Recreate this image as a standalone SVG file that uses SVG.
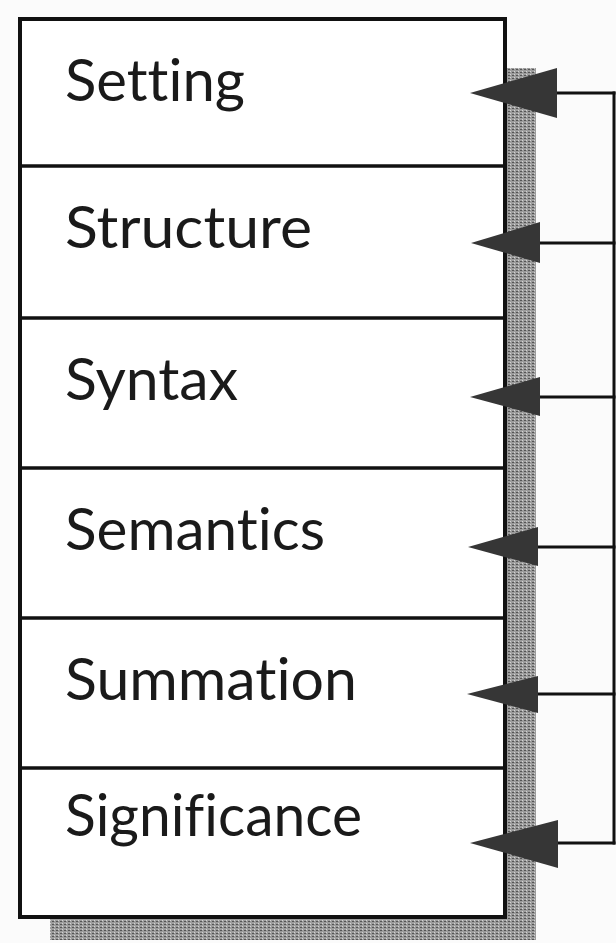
<svg xmlns="http://www.w3.org/2000/svg" width="616" height="943" viewBox="0 0 616 943">
<style>
.lbl{font-family:Lato,"Open Sans","Liberation Sans",sans-serif;font-size:58px;fill:#1a1a1a;font-variant-ligatures:none;font-feature-settings:"liga" 0,"clig" 0}
.box{fill:#fff;stroke:#111;stroke-width:4}
.div{stroke:#111;stroke-width:3.5}
.con{stroke:#111;stroke-width:3;fill:none}
.head{fill:#363636}
</style>
<defs>
<pattern id="ht" width="4" height="3" patternUnits="userSpaceOnUse">
<rect width="4" height="3" fill="#9c9c9c"/>
<rect width="2" height="1" fill="#555"/>
<rect x="2" y="2" width="1" height="1" fill="#d4d4d4"/>
</pattern>
</defs>
<rect width="616" height="943" fill="#fbfbfb"/>
<g id="shadow">
<rect x="507" y="68" width="29" height="872" fill="url(#ht)"/>
<rect x="50" y="918" width="486" height="22" fill="url(#ht)"/>
</g>
<g id="stack">
<rect class="box" x="20" y="19" width="485" height="898"/>
</g>
<g id="setting"><text class="lbl" x="65" y="101" textLength="180" lengthAdjust="spacingAndGlyphs">Setting</text></g>
<g id="structure"><line class="div" x1="20" y1="166" x2="505" y2="166"/><text class="lbl" x="65" y="248" textLength="247" lengthAdjust="spacingAndGlyphs">Structure</text></g>
<g id="syntax"><line class="div" x1="20" y1="318" x2="505" y2="318"/><text class="lbl" x="65" y="400" textLength="173" lengthAdjust="spacingAndGlyphs">Syntax</text></g>
<g id="semantics"><line class="div" x1="20" y1="468" x2="505" y2="468"/><text class="lbl" x="65" y="550" textLength="260" lengthAdjust="spacingAndGlyphs">Semantics</text></g>
<g id="summation"><line class="div" x1="20" y1="618" x2="505" y2="618"/><text class="lbl" x="65" y="700" textLength="292" lengthAdjust="spacingAndGlyphs">Summation</text></g>
<g id="significance"><line class="div" x1="20" y1="768" x2="505" y2="768"/><text class="lbl" x="65" y="836" textLength="297" lengthAdjust="spacingAndGlyphs">Significance</text></g>
<g id="connectors">
<line class="con" x1="614" y1="91.5" x2="614" y2="844.5"/>
<line class="con" x1="555" y1="93" x2="615.5" y2="93"/>
<line class="con" x1="538" y1="243" x2="615.5" y2="243"/>
<line class="con" x1="538" y1="397" x2="615.5" y2="397"/>
<line class="con" x1="536" y1="547" x2="615.5" y2="547"/>
<line class="con" x1="536" y1="694" x2="615.5" y2="694"/>
<line class="con" x1="556" y1="843" x2="615.5" y2="843"/>
<polygon class="head" points="470,93 557,68 557,118"/>
<polygon class="head" points="471,243 540,222 540,263"/>
<polygon class="head" points="470,397 540,377 540,416"/>
<polygon class="head" points="468,547 538,527 538,566"/>
<polygon class="head" points="467,694 538,676 538,713"/>
<polygon class="head" points="470,843 558,820 558,868"/>
</g>
</svg>
